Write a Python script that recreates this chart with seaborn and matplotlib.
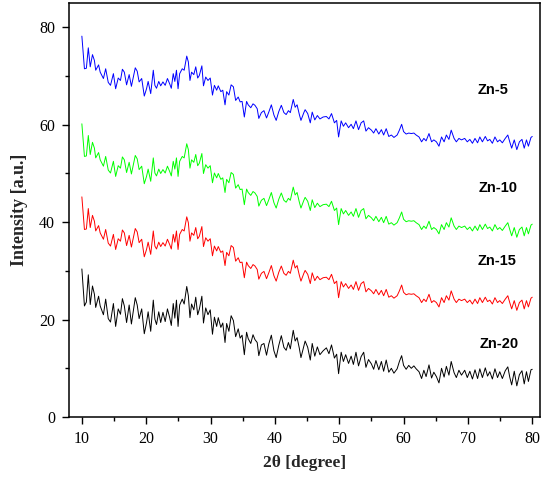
import matplotlib
matplotlib.use("Agg")
import matplotlib.pyplot as plt
from matplotlib.ticker import MultipleLocator
import seaborn as sns
import pandas as pd

two_theta = [
    10.0, 10.4, 10.7, 11.0, 11.3, 11.65, 11.95, 12.15, 12.6, 12.85,
    13.35, 13.7, 14.1, 14.45, 14.9, 15.25, 15.65, 16.0, 16.3, 16.6,
    16.95, 17.35, 17.7, 18.3, 18.6, 18.9, 19.3, 19.7, 20.05, 20.3,
    20.7, 21.1, 21.35, 21.6, 21.95, 22.25, 22.6, 22.95, 23.3, 23.65,
    23.9, 24.2, 24.45, 24.7, 24.95, 25.2, 25.6, 25.9, 26.3, 26.55,
    26.8, 27.05, 27.4, 27.7, 28.0, 28.25, 28.65, 28.9, 29.25, 29.6,
    29.95, 30.3, 30.6, 30.95, 31.2, 31.6, 31.9, 32.25, 32.5, 32.85,
    33.2, 33.55, 33.9, 34.3, 34.6, 34.9, 35.25, 35.6, 35.85, 36.25,
    36.6, 36.9, 37.25, 37.5, 37.9, 38.3, 38.7, 39.05, 39.45, 39.85,
    40.2, 40.6, 41.0, 41.4, 41.75, 42.1, 42.4, 42.85, 43.15, 43.45,
    43.8, 44.05, 44.5, 44.7, 45.1, 45.5, 45.8, 46.2, 46.6, 47.0,
    47.5, 48.0, 48.4, 48.8, 49.25, 49.6, 49.9, 50.3, 50.65, 51.0,
    51.45, 51.85, 52.2, 52.6, 53.0, 53.4, 53.8, 54.15, 54.55, 55.0,
    55.35, 55.7, 56.15, 56.55, 56.9, 57.3, 57.7, 58.1, 58.5, 59.0,
    59.35, 59.7, 60.0, 60.4, 60.8, 61.2, 61.6, 61.95, 62.4, 62.8,
    63.15, 63.5, 63.95, 64.35, 64.7, 65.1, 65.5, 65.9, 66.3, 66.65,
    67.05, 67.4, 67.85, 68.2, 68.6, 69.0, 69.5, 69.9, 70.3, 70.7,
    71.1, 71.5, 71.85, 72.25, 72.7, 73.05, 73.4, 73.8, 74.2, 74.6,
    74.95, 75.35, 75.8, 76.2, 76.5, 76.8, 77.2, 77.6, 78.0, 78.4,
    78.75, 79.1, 79.4, 79.8, 80.0,
]

zn5 = [
    78.2, 71.5, 71.6, 75.8, 71.9, 74.4, 73.2, 71.2, 72.3, 70.8,
    69.5, 71.5, 68.7, 68.1, 70.5, 67.4, 69.6, 69.1, 71.4, 70.8,
    68.2, 70.3, 67.9, 71.7, 71.0, 68.8, 69.5, 65.9, 67.4, 68.9,
    66.4, 71.2, 68.1, 67.5, 68.9, 68.0, 68.8, 68.1, 69.5, 68.4,
    67.5, 70.5, 68.9, 71.2, 67.4, 70.5, 71.5, 71.2, 74.1, 72.9,
    69.1, 70.8, 70.3, 71.9, 69.6, 70.1, 72.1, 68.0, 69.8, 69.1,
    69.6, 66.1, 68.1, 67.1, 68.0, 66.8, 67.1, 64.1, 66.8, 66.1,
    68.2, 67.8, 65.0, 65.7, 64.7, 64.8, 61.6, 64.8, 64.1, 63.5,
    64.3, 64.0, 63.3, 61.3, 62.5, 62.9, 61.4, 62.6, 64.1, 62.0,
    60.9, 62.7, 64.0, 62.5, 62.1, 62.9, 62.5, 65.2, 63.6, 64.1,
    62.1, 60.9, 62.5, 63.1, 62.3, 60.4, 62.6, 61.0, 61.9, 61.2,
    61.6, 61.7, 61.2, 62.3, 60.4, 60.9, 57.5, 60.8, 59.7, 60.4,
    59.4, 60.1, 59.2, 60.8, 59.0, 60.4, 60.8, 58.7, 59.4, 58.9,
    58.3, 59.2, 58.1, 59.0, 57.9, 59.2, 57.6, 57.9, 57.4, 57.9,
    58.9, 60.1, 58.6, 58.1, 58.3, 58.2, 58.3, 57.9, 57.5, 56.5,
    57.2, 56.7, 58.2, 56.5, 56.9, 56.5, 55.6, 57.5, 56.5, 57.9,
    57.0, 58.9, 57.2, 56.5, 57.2, 56.9, 57.2, 56.5, 57.0, 56.2,
    57.2, 56.3, 57.5, 56.5, 57.6, 56.7, 57.0, 56.2, 57.5, 56.5,
    56.9, 56.3, 57.2, 57.9, 56.5, 55.2, 56.9, 54.9, 56.5, 57.0,
    55.2, 56.9, 55.6, 57.4, 57.6,
]

zn10 = [
    60.2, 53.5, 53.6, 57.8, 53.9, 56.4, 55.2, 53.2, 54.3, 52.8,
    51.5, 53.5, 50.7, 50.1, 52.5, 49.4, 51.6, 51.1, 53.4, 52.8,
    50.2, 52.3, 49.9, 53.7, 53.0, 50.8, 51.5, 47.9, 49.4, 50.9,
    48.4, 53.2, 50.1, 49.5, 50.9, 50.0, 50.8, 50.1, 51.5, 50.4,
    49.5, 52.5, 50.9, 53.2, 49.4, 52.5, 53.5, 53.2, 56.1, 54.9,
    51.1, 52.8, 52.3, 53.9, 51.6, 52.1, 54.1, 50.0, 51.8, 51.1,
    51.6, 48.1, 50.1, 49.1, 50.0, 48.8, 49.1, 46.1, 48.8, 48.1,
    50.2, 49.8, 47.0, 47.7, 46.7, 46.8, 43.6, 46.8, 46.1, 45.5,
    46.3, 46.0, 45.3, 43.3, 44.5, 44.9, 43.4, 44.6, 46.1, 44.0,
    42.9, 44.7, 46.0, 44.5, 44.1, 44.9, 44.5, 47.2, 45.6, 46.1,
    44.1, 42.9, 44.5, 45.1, 44.3, 42.4, 44.6, 43.0, 43.9, 43.2,
    43.6, 43.7, 43.2, 44.3, 42.4, 42.9, 39.5, 42.8, 41.7, 42.4,
    41.4, 42.1, 41.2, 42.8, 41.0, 42.4, 42.8, 40.7, 41.4, 40.9,
    40.3, 41.2, 40.1, 41.0, 39.9, 41.2, 39.6, 39.9, 39.4, 39.9,
    40.9, 42.1, 40.6, 40.1, 40.3, 40.2, 40.3, 39.9, 39.5, 38.5,
    39.2, 38.7, 40.2, 38.5, 38.9, 38.5, 37.6, 39.5, 38.5, 39.9,
    39.0, 40.9, 39.2, 38.5, 39.2, 38.9, 39.2, 38.5, 39.0, 38.2,
    39.2, 38.3, 39.5, 38.5, 39.6, 38.7, 39.0, 38.2, 39.5, 38.5,
    38.9, 38.3, 39.2, 39.9, 38.5, 37.2, 38.9, 36.9, 38.5, 39.0,
    37.2, 38.9, 37.6, 39.4, 39.6,
]

zn15 = [
    45.2, 38.5, 38.6, 42.8, 38.9, 41.4, 40.2, 38.2, 39.3, 37.8,
    36.5, 38.5, 35.7, 35.1, 37.5, 34.4, 36.6, 36.1, 38.4, 37.8,
    35.2, 37.3, 34.9, 38.7, 38.0, 35.8, 36.5, 32.9, 34.4, 35.9,
    33.4, 38.2, 35.1, 34.5, 35.9, 35.0, 35.8, 35.1, 36.5, 35.4,
    34.5, 37.5, 35.9, 38.2, 34.4, 37.5, 38.5, 38.2, 41.1, 39.9,
    36.1, 37.8, 37.3, 38.9, 36.6, 37.1, 39.1, 35.0, 36.8, 36.1,
    36.6, 33.1, 35.1, 34.1, 35.0, 33.8, 34.1, 31.1, 33.8, 33.1,
    35.2, 34.8, 32.0, 32.7, 31.7, 31.8, 28.6, 31.8, 31.1, 30.5,
    31.3, 31.0, 30.3, 28.3, 29.5, 29.9, 28.4, 29.6, 31.1, 29.0,
    27.9, 29.7, 31.0, 29.5, 29.1, 29.9, 29.5, 32.2, 30.6, 31.1,
    29.1, 27.9, 29.5, 30.1, 29.3, 27.4, 29.6, 28.0, 28.9, 28.2,
    28.6, 28.7, 28.2, 29.3, 27.4, 27.9, 24.5, 27.8, 26.7, 27.4,
    26.4, 27.1, 26.2, 27.8, 26.0, 27.4, 27.8, 25.7, 26.4, 25.9,
    25.3, 26.2, 25.1, 26.0, 24.9, 26.2, 24.6, 24.9, 24.4, 24.9,
    25.9, 27.1, 25.6, 25.1, 25.3, 25.2, 25.3, 24.9, 24.5, 23.5,
    24.2, 23.7, 25.2, 23.5, 23.9, 23.5, 22.6, 24.5, 23.5, 24.9,
    24.0, 25.9, 24.2, 23.5, 24.2, 23.9, 24.2, 23.5, 24.0, 23.2,
    24.2, 23.3, 24.5, 23.5, 24.6, 23.7, 24.0, 23.2, 24.5, 23.5,
    23.9, 23.3, 24.2, 24.9, 23.5, 22.2, 23.9, 21.9, 23.5, 24.0,
    22.2, 23.9, 22.6, 24.4, 24.6,
]

zn20 = [
    30.4, 22.8, 23.6, 29.2, 23.1, 26.9, 25.2, 22.5, 24.8, 22.8,
    21.0, 24.2, 20.2, 19.5, 23.3, 18.6, 22.2, 21.1, 24.3, 22.8,
    19.4, 23.0, 19.1, 24.5, 23.0, 20.2, 22.2, 17.1, 19.4, 21.6,
    17.6, 24.0, 20.1, 19.0, 21.6, 19.4, 21.5, 19.6, 22.2, 20.4,
    18.8, 23.3, 20.3, 24.0, 18.6, 23.0, 24.2, 23.2, 26.8, 24.9,
    20.4, 23.2, 22.0, 24.6, 21.0, 22.1, 24.8, 19.3, 22.4, 21.0,
    22.0, 17.0, 20.5, 18.6, 20.4, 18.4, 19.3, 15.3, 19.2, 17.6,
    20.8, 19.8, 16.5, 18.1, 16.2, 16.8, 12.8, 17.4, 16.1, 15.1,
    16.9, 15.9, 15.3, 12.6, 14.8, 15.1, 12.7, 15.0, 16.8, 13.6,
    12.2, 14.7, 16.7, 14.3, 13.7, 15.3, 14.0, 17.8, 15.6, 16.3,
    14.1, 12.2, 14.5, 15.6, 14.3, 11.7, 15.1, 12.5, 14.4, 12.8,
    13.6, 14.2, 13.0, 14.8, 12.1, 12.9, 8.9, 13.3, 11.4, 12.8,
    11.0, 12.5, 10.8, 13.3, 10.5, 12.4, 13.3, 10.2, 11.8, 10.9,
    9.8, 11.6, 9.7, 11.4, 9.4, 11.7, 9.2, 10.0, 9.0, 9.9,
    11.4, 12.6, 10.6, 9.8, 10.6, 10.0, 10.5, 9.9, 9.3, 7.9,
    9.6, 8.3, 10.7, 8.0, 9.2, 8.3, 7.0, 10.0, 8.2, 10.4,
    8.6, 11.4, 9.1, 8.1, 9.6, 8.6, 9.6, 8.1, 9.4, 7.8,
    9.7, 7.9, 9.9, 8.1, 10.1, 8.4, 9.3, 7.8, 9.9, 8.1,
    9.3, 7.9, 9.5, 10.3, 8.2, 6.6, 9.4, 6.4, 8.7, 9.5,
    6.8, 9.3, 7.3, 9.7, 9.8,
]

series_names = ["Zn-5", "Zn-10", "Zn-15", "Zn-20"]
series_colors = ["#0000ff", "#00ff00", "#ff0000", "#000000"]
label_x = [73.9, 74.75, 74.6, 74.9]
label_y = [67.2, 47.1, 32.1, 15.0]

sns.set_theme(style="ticks")
plt.rcParams["font.family"] = ["Liberation Serif", "DejaVu Serif"]

frames = []
for name, vals in zip(series_names, [zn5, zn10, zn15, zn20]):
    frames.append(pd.DataFrame({"two_theta": two_theta, "intensity": vals, "sample": name}))
df = pd.concat(frames, ignore_index=True)

fig = plt.figure(figsize=(5.45, 4.79), dpi=100)
ax = fig.add_axes([0.1266, 0.1294, 0.8642, 0.8643])

sns.lineplot(data=df, x="two_theta", y="intensity", hue="sample",
             hue_order=series_names, palette=series_colors,
             linewidth=0.7, legend=False, ax=ax, sort=False, estimator=None)

for name, xx, yy in zip(series_names, label_x, label_y):
    ax.text(xx, yy, name, ha="center", va="center", fontsize=10.5,
            fontweight="bold", family=["Liberation Sans", "DejaVu Sans"], color="black")

ax.set_xlim(8, 81.2)
ax.set_ylim(0, 85)
ax.xaxis.set_major_locator(MultipleLocator(10))
ax.xaxis.set_minor_locator(MultipleLocator(5))
ax.yaxis.set_major_locator(MultipleLocator(20))
ax.yaxis.set_minor_locator(MultipleLocator(10))
ax.tick_params(which="major", direction="out", length=5, width=1, labelsize=11.5, pad=5, color="black", labelcolor="black")
ax.tick_params(which="minor", direction="out", length=3, width=1, color="black")
ax.tick_params(top=False, right=False, which="both")

for sp in ax.spines.values():
    sp.set_visible(True)
    sp.set_linewidth(1.1)
    sp.set_color("black")

ax.set_xlabel("2θ [degree]", fontsize=12.5, fontweight="bold", labelpad=6)
ax.set_ylabel("Intensity [a.u.]", fontsize=13, fontweight="bold", labelpad=8)
ax.grid(False)

fig.savefig("out.png", dpi=100)
